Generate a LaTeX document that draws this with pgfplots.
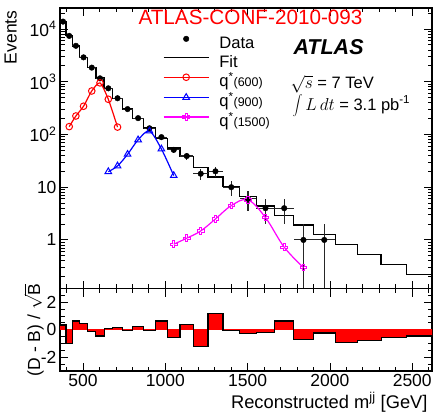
\documentclass[border=0pt]{standalone}
\usepackage{fontspec}
\setmainfont{Liberation Sans}
\usepackage{pgfplots}
\pgfplotsset{compat=1.18}
\usepackage{pgfplotstable}

\newcommand\fs[1]{\fontsize{#1}{#1}\selectfont}
\definecolor{rootred}{RGB}{255,0,0}
\definecolor{rootblue}{RGB}{0,0,255}
\definecolor{rootmag}{RGB}{255,0,255}

% open cross marker (ROOT style 28)
\pgfdeclareplotmark{opencross}{%
  \pgfpathmoveto{\pgfqpoint{0.35\pgfplotmarksize}{\pgfplotmarksize}}%
  \pgfpathlineto{\pgfqpoint{0.35\pgfplotmarksize}{0.35\pgfplotmarksize}}%
  \pgfpathlineto{\pgfqpoint{\pgfplotmarksize}{0.35\pgfplotmarksize}}%
  \pgfpathlineto{\pgfqpoint{\pgfplotmarksize}{-0.35\pgfplotmarksize}}%
  \pgfpathlineto{\pgfqpoint{0.35\pgfplotmarksize}{-0.35\pgfplotmarksize}}%
  \pgfpathlineto{\pgfqpoint{0.35\pgfplotmarksize}{-\pgfplotmarksize}}%
  \pgfpathlineto{\pgfqpoint{-0.35\pgfplotmarksize}{-\pgfplotmarksize}}%
  \pgfpathlineto{\pgfqpoint{-0.35\pgfplotmarksize}{-0.35\pgfplotmarksize}}%
  \pgfpathlineto{\pgfqpoint{-\pgfplotmarksize}{-0.35\pgfplotmarksize}}%
  \pgfpathlineto{\pgfqpoint{-\pgfplotmarksize}{0.35\pgfplotmarksize}}%
  \pgfpathlineto{\pgfqpoint{-0.35\pgfplotmarksize}{0.35\pgfplotmarksize}}%
  \pgfpathlineto{\pgfqpoint{-0.35\pgfplotmarksize}{\pgfplotmarksize}}%
  \pgfpathclose
  \pgfusepathqstroke
}

% data points: bin centre, half width, events, errors
\pgfplotstableread{
x      ex    y      eyp   eym
378.5  18.5  13800  117   117
416    19    7400   86    86
456.5  21.5  4800   69    69
503    25    2900   54    54
553    25    1850   43    43
603    25    1160   34    34
653.5  25.5  750    27    27
709.5  30.5  486    22    22
770.5  30.5  303    17.4  17.4
834.5  33.5  204    14.3  14.3
903.5  35.5  131    11.4  11.4
976    37    89     9.4   9.4
1051   38    51     7.1   7.1
1130   41    39     6.2   6.2
1215   44    18     4.2   4.2
1304.5 45.5  20     4.5   4.5
1400.5 50.5  10     3.2   3.2
1502   51    6      2.45  2.45
1608.5 55.5  4      2     2
1722   58    4      2     2
1839   59    1      1     0.999
1965.5 67.5  1      1     0.999
}\datatab

% bin left edges, fit, (D-B)/sqrt(B)
\pgfplotstableread{
x     fit    sig
360   13760  0.34
397   7488   -1.02
435   4756   0.63
478   2876   0.44
528   1854   -0.10
578   1176   -0.46
628   747    0.10
679   482    0.17
740   304    -0.07
801   201    0.22
868   132    -0.07
939   84     0.63
1013  55.5   -0.59
1089  37.8   0.37
1171  23.5   -1.20
1259  15.6   1.17
1350  10.2   -0.07
1451  6.6    -0.29
1553  4.4    -0.22
1664  2.9    0.63
1780  1.92   -0.71
1898  1.26   -0.24
2033  0.81   -0.90
2169  0.53   -0.76
2311  0.34   -0.59
2463  0.22   -0.46
2620  0.22   -0.46
}\bintab

\pgfplotsset{
  rootax/.style={
    scale only axis, width=372pt,
    xmin=360, xmax=2620,
    tick align=inside, tick pos=both,
    major tick length=8pt, minor tick length=4.5pt,
    axis line style={line width=1.2pt},
    every tick/.style={black, line width=0.9pt},
    xtick={500,1000,1500,2000,2500},
    minor xtick={400,500,...,2600},
    tick label style={font=\fs{17.5}},
    /pgf/number format/assume math mode=true,
    /pgf/number format/1000 sep={},
  },
}

\begin{document}
\begin{tikzpicture}

\begin{axis}[rootax, name=top,
  at={(60pt,-288.5pt)}, anchor=south west, height=280.5pt,
  ymode=log, ymin=0.12, ymax=25000,
  xticklabels={},
  ytick={1,10,100,1000,10000},
  yticklabels={1,10,10\textsuperscript{2},10\textsuperscript{3},10\textsuperscript{4}},
  minor ytick={0.2,0.3,0.4,0.5,0.6,0.7,0.8,0.9,2,3,4,5,6,7,8,9,20,30,40,50,60,70,80,90,
    200,300,400,500,600,700,800,900,2000,3000,4000,5000,6000,7000,8000,9000,20000},
  legend style={draw=none, fill=none, inner sep=0pt, outer sep=0pt,
    at={(axis description cs:0.277,0.900)}, anchor=north west,
    column sep=10pt, row sep=2.8pt,
    nodes={inner sep=0pt, text height=12pt, text depth=4pt, font=\fs{16.6}}},
  legend cell align=left,
  legend image code/.code={\draw[mark repeat=2,mark phase=2,#1]
    plot coordinates {(0pt,5.5pt) (22.5pt,5.5pt) (45pt,5.5pt)};},
]
\addplot[const plot, black, line width=1.3pt, forget plot] table[x=x, y=fit] {\bintab};

\addplot[only marks, mark=*, mark size=2.8pt, black,
  error bars/.cd, x dir=both, x explicit, y dir=both, y explicit,
  error mark=none, error bar style={black!85, line width=1.1pt}]
  table[x=x, y=y, x error=ex, y error plus=eyp, y error minus=eym] {\datatab};
\addlegendentry{Data}
\addlegendimage{black, line width=1.3pt}
\addlegendentry{Fit}

\addplot[rootred, line width=1.2pt, smooth, tension=0.4, mark=o, mark size=3.3pt,
  mark options={line width=1pt}] coordinates {
  (416,141) (456.5,224) (503,343) (553,668) (603,950) (653.5,465) (709.5,138)};
\addlegendentry{q\textsuperscript{*}{\fs{12.5}(600)}}

\addplot[rootblue, line width=1.2pt, smooth, tension=0.5, mark=triangle, mark size=3.8pt,
  mark options={line width=1pt}] coordinates {
  (653.5,19.7) (709.5,25.3) (770.5,42) (834.5,79) (903.5,116) (976,53) (1051,16.6)};
\addlegendentry{q\textsuperscript{*}{\fs{12.5}(900)}}

\addplot[rootmag, line width=1.2pt, smooth, tension=0.6, mark=opencross, mark size=3.3pt,
  mark options={line width=0.9pt}] coordinates {
  (1051,0.83) (1130,1.08) (1215,1.48) (1304.5,2.5) (1400.5,4.47) (1502,5.73)
  (1608.5,2.65) (1722,0.73) (1839,0.30)};
\addlegendentry{q\textsuperscript{*}{\fs{12.5}(1500)}}
\end{axis}

\begin{axis}[rootax, name=bot,
  at={(60pt,-371pt)}, anchor=south west, height=82.5pt,
  ymin=-3, ymax=3,
  ytick={-2,0,2},
  minor ytick={-2.5,-1.5,-1,-0.5,0.5,1,1.5,2.5},
]
\addplot[const plot, fill=rootred, draw=none] table[x=x, y=sig] {\bintab} \closedcycle;
\addplot[rootred, line width=1pt] coordinates {(360,0) (2620,0)};
\addplot[const plot, black, line width=1.2pt] table[x=x, y=sig] {\bintab};
\end{axis}

\node[anchor=base, rootred, font=\fs{20.7}] at (250.5pt,-25pt) {ATLAS-CONF-2010-093};
\node[anchor=base west, font=\fs{21.5}\bfseries\itshape] at (290pt,-55pt) {ATLAS};
\node[anchor=base west, font=\fs{16.5}] at (287pt,-88.5pt) {$\sqrt{s}$ = 7 TeV};
\node[anchor=base west, font=\fs{16.5}] at (289pt,-110pt) {$\displaystyle\int L\,dt$ = 3.1 pb\textsuperscript{-1}};

\node[rotate=90, anchor=base east, font=\fs{17.5}] at (16.5pt,-7pt) {Events};
\node[rotate=90, anchor=base, inner sep=0pt, font=\fs{17.5}] at (40pt,-330pt) {(D - B) / \raisebox{0pt}{$\sqrt{\mbox{B}}$}};
\node[anchor=base east, font=\fs{18.3}] at (431pt,-408pt) {Reconstructed m\textsuperscript{jj} [GeV]};

\pgfresetboundingbox
\useasboundingbox (0pt,0pt) rectangle (433pt,-412pt);
\end{tikzpicture}
\end{document}
